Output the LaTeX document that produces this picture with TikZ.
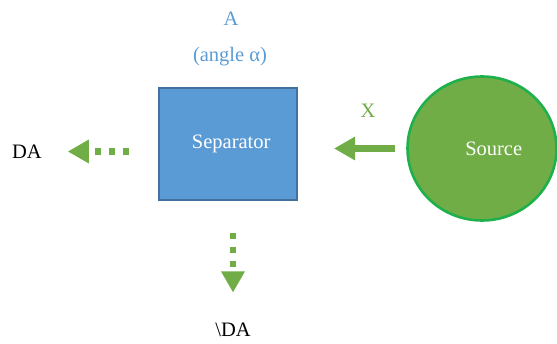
\documentclass[tikz,border=0pt]{standalone}
\usepackage{fontspec}
\setmainfont{Liberation Serif}
\usetikzlibrary{shapes.geometric,arrows.meta}
\definecolor{boxblue}{HTML}{5B9BD5}
\definecolor{boxedge}{HTML}{41719C}
\definecolor{srcgreen}{HTML}{70AD47}
\definecolor{srcedge}{HTML}{1EB04B}

\begin{document}
\begin{tikzpicture}[x=0.03cm,y=-0.03cm,
    every node/.style={font=\fontsize{17.5}{21}\selectfont},
    flow/.style={draw=srcgreen,line width=5.5pt,-{Triangle[length=18pt,width=19pt]}},
    dots/.style={flow,dash pattern=on 5.5pt off 6.4pt}]

  \useasboundingbox (0,0) rectangle (557,344);

  \begin{scope}[every node/.style={font=\fontsize{17.5}{21}\selectfont,text=white,outer sep=0pt}]
    \node (sep) [rectangle,draw=boxedge,fill=boxblue,line width=1.9pt,
      minimum width=4.14cm,minimum height=3.34cm] at (228.3,144) {\hspace*{5pt}Separator};
    \node (src) [ellipse,draw=srcedge,fill=srcgreen,line width=2.2pt,inner sep=0pt,
      minimum width=4.47cm,minimum height=4.32cm] at (482,148.5) {\hspace*{20pt}Source};
  \end{scope}

  \begin{scope}[every node/.style={font=\fontsize{17.5}{21}\selectfont,inner sep=0pt}]
    \node (a)   [text=boxblue]  at (231,19)  {A};
    \node (ang) [text=boxblue]  at (230,57)  {(angle α)};
    \node (x)   [text=srcgreen] at (368,111) {X};
    \node (da)                  at (27,151.5) {DA};
    \node (nda)                 at (233,330) {\textbackslash DA};
  \end{scope}

  \draw[flow,shorten <=10.7pt,shorten >=31.3pt] (src.west) -- (src.west -| sep.east);
  \draw[dots,shorten <=25.9pt,shorten >=21.9pt] (da -| sep.west) -- (da.east);
  \draw[dots,shorten <=28.2pt,shorten >=25.9pt] (nda |- sep.south) -- (nda.north);

\end{tikzpicture}
\end{document}
